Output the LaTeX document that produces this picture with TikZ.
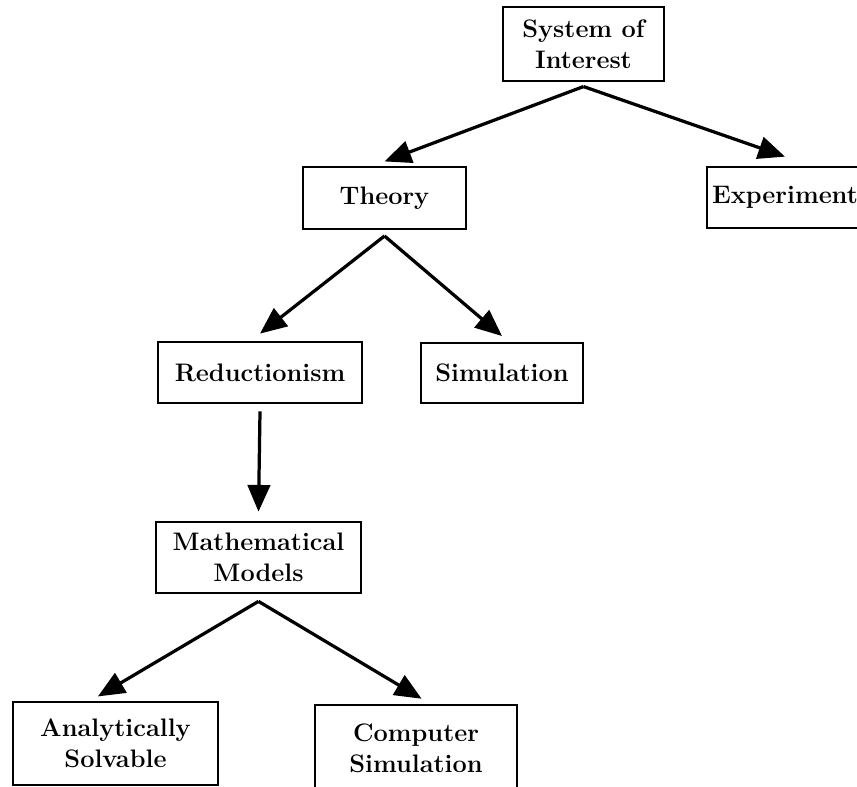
\documentclass[tikz,border=0pt]{standalone}
\usetikzlibrary{arrows.meta}
\begin{document}
\begin{tikzpicture}[x=0.025cm, y=-0.025cm,
    block/.style={draw, line width=1.9pt, align=center, inner sep=2pt,
        font=\fontsize{18}{22}\selectfont\bfseries},
    link/.style={line width=2.3pt, -{Triangle[length=19pt, width=16pt]}}]

    \useasboundingbox (0,0) rectangle (857,787);
    \clip (0,0) rectangle (857,787);

    %% Ways of studying a system

    % Top level
    \node[block, minimum width=4.025cm, minimum height=1.85cm] (sys) at (583.5,44) {System of\\Interest};

    % Theory and experiment
    \node[block, minimum width=4.075cm, minimum height=1.55cm] (theory) at (384.5,198) {Theory};
    \node[block, minimum width=3.9cm, minimum height=1.525cm] (exper) at (785,197.5) {Experiment};

    % Branches of theory
    \node[block, minimum width=5.1cm, minimum height=1.525cm] (reduct) at (260,372.5) {Reductionism};
    \node[block, minimum width=4.05cm, minimum height=1.5cm] (simul) at (502,373) {Simulation};

    % Models
    \node[block, minimum width=5.125cm, minimum height=1.775cm] (math) at (258.5,557.5) {Mathematical\\Models};
    \node[block, minimum width=5.125cm, minimum height=2.075cm] (analyt) at (115.5,743.5) {Analytically\\Solvable};
    \node[block, minimum width=5.05cm, minimum height=2.15cm] (comp) at (416,748) {Computer\\Simulation};

    % Arrows
    \draw[link] ([yshift=-3pt]sys.south) -- ([yshift=3pt]theory.north);
    \draw[link] ([yshift=-3pt]sys.south) -- ([yshift=6.4pt]exper.north);
    \draw[link] ([yshift=-4pt]theory.south) -- ([yshift=5pt]reduct.north);
    \draw[link] ([yshift=-4pt]theory.south) -- ([yshift=4pt]simul.north);
    \draw[link] ([yshift=-5pt]reduct.south) -- ([yshift=6.4pt]math.north);
    \draw[link] ([yshift=-5pt]math.south) -- ([xshift=-12.5pt, yshift=3pt]analyt.north);
    \draw[link] ([yshift=-5pt]math.south) -- ([xshift=4pt, yshift=3.5pt]comp.north);

\end{tikzpicture}
\end{document}
